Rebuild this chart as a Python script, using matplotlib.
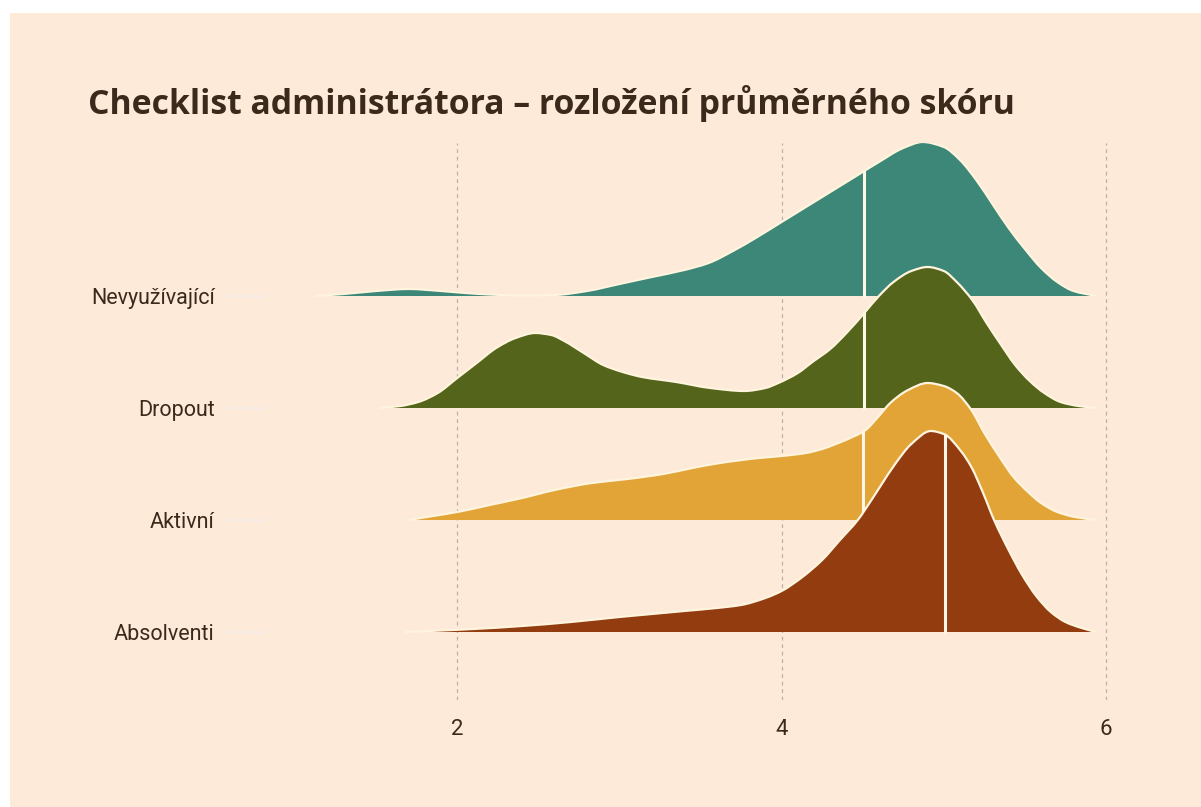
import numpy as np
import matplotlib
matplotlib.use("Agg")
import matplotlib.pyplot as plt
from matplotlib.patches import Rectangle, PathPatch
from matplotlib.path import Path

# ---------------- data ----------------
groups = ["Absolventi", "Aktivní", "Dropout", "Nevyužívající"]
colors = ["#923C10", "#E2A437", "#54641B", "#3C8777"]

x_nev = [1.12, 1.30, 1.50, 1.70, 1.90, 2.05, 2.20, 2.40, 2.60, 2.80, 3.00, 3.20, 3.40, 3.55,
         3.70, 3.85, 4.00, 4.15, 4.30, 4.45, 4.60, 4.75, 4.87, 5.00, 5.10, 5.20, 5.30, 5.40,
         5.50, 5.60, 5.70, 5.80, 5.94]
d_nev = [0, 2, 5, 7, 5, 3, 1.5, 0.5, 1, 5, 12, 19, 26, 33,
         45, 59, 74, 89, 104, 119, 134, 148, 154, 149, 136, 116, 92, 68,
         47, 28, 14, 5, 0]

x_drop = [1.52, 1.65, 1.76, 1.88, 2.00, 2.12, 2.24, 2.36, 2.48, 2.58, 2.66, 2.78, 2.90, 3.02,
          3.14, 3.35, 3.56, 3.77, 3.90, 3.98, 4.10, 4.19, 4.30, 4.40, 4.51, 4.60, 4.69, 4.80,
          4.90, 5.00, 5.08, 5.18, 5.26, 5.35, 5.44, 5.53, 5.62, 5.72, 5.83, 5.94]
d_drop = [0, 2, 6, 15, 30, 45, 60, 70, 75, 73, 67, 55, 43, 36,
          31, 26, 20, 17, 20, 25, 35, 46, 59, 75, 95, 112, 126, 137,
          141, 137, 126, 107, 86, 64, 43, 27, 15, 6, 2, 0]

x_akt = [1.70, 1.85, 2.00, 2.20, 2.40, 2.60, 2.83, 3.05, 3.27, 3.45, 3.62, 3.86, 4.00, 4.15,
         4.25, 4.35, 4.45, 4.51, 4.60, 4.67, 4.78, 4.90, 5.00, 5.08, 5.17, 5.25, 5.34, 5.43,
         5.52, 5.60, 5.70, 5.81, 5.94]
d_akt = [0, 4, 8, 15, 22, 30, 37, 41, 46, 52, 57, 62, 64, 67,
         71, 77, 84, 89, 104, 117, 130, 137, 134, 127, 110, 87, 64, 43,
         28, 17, 8, 3, 0]

x_abs = [1.68, 1.90, 2.10, 2.40, 2.70, 3.00, 3.20, 3.40, 3.60, 3.75, 3.90, 4.00, 4.12, 4.25,
         4.36, 4.47, 4.55, 4.61, 4.70, 4.80, 4.92, 5.00, 5.11, 5.17, 5.24, 5.31, 5.40, 5.48,
         5.57, 5.66, 5.75, 5.85, 5.94]
d_abs = [0, 1.5, 3, 6, 10, 15, 18, 21, 24, 27, 34, 41, 54, 72,
         92, 112, 131, 146, 168, 188, 201, 198, 180, 165, 140, 112, 82, 58,
         36, 20, 10, 4, 0]

medians = [5.01, 4.50, 4.51, 4.51]
x_ticks = [2, 4, 6]
title = "Checklist administrátora – rozložení průměrného skóru"

xs = [x_abs, x_akt, x_drop, x_nev]
ds = [d_abs, d_akt, d_drop, d_nev]

# ---------------- helpers ----------------
def pchip_slopes(x, y):
    h = np.diff(x)
    delta = np.diff(y) / h
    m = np.zeros_like(y)
    for k in range(1, len(x) - 1):
        if delta[k - 1] * delta[k] <= 0:
            m[k] = 0.0
        else:
            w1 = 2 * h[k] + h[k - 1]
            w2 = h[k] + 2 * h[k - 1]
            m[k] = (w1 + w2) / (w1 / delta[k - 1] + w2 / delta[k])
    m[0] = delta[0]
    m[-1] = delta[-1]
    return m


def smooth_path_vertices(x, y):
    """Monotone cubic Bezier segments through the given points."""
    m = pchip_slopes(x, y)
    verts = [(x[0], y[0])]
    codes = [Path.MOVETO]
    for k in range(len(x) - 1):
        dx = x[k + 1] - x[k]
        verts += [(x[k] + dx / 3, y[k] + m[k] * dx / 3),
                  (x[k + 1] - dx / 3, y[k + 1] - m[k + 1] * dx / 3),
                  (x[k + 1], y[k + 1])]
        codes += [Path.CURVE4] * 3
    return verts, codes


def pchip_eval(x, y, xq):
    m = pchip_slopes(x, y)
    k = np.searchsorted(x, xq) - 1
    k = min(max(k, 0), len(x) - 2)
    hk = x[k + 1] - x[k]
    t = (xq - x[k]) / hk
    h00 = 2 * t**3 - 3 * t**2 + 1
    h10 = t**3 - 2 * t**2 + t
    h01 = -2 * t**3 + 3 * t**2
    h11 = t**3 - t**2
    return h00 * y[k] + h10 * hk * m[k] + h01 * y[k + 1] + h11 * hk * m[k + 1]


# ---------------- style ----------------
BG = "#FDEAD9"
TXT = "#3B2A1C"
W, H = 1201, 807
scale = 1 / 112.0   # density units -> row units

fig = plt.figure(figsize=(W / 100, H / 100), dpi=100, facecolor="white")
fig.patches.append(Rectangle((10 / W, 0), 1 - 10 / W, 1 - 13 / H,
                             transform=fig.transFigure, facecolor=BG,
                             edgecolor="none", zorder=-10))

L, R, T, B = 266, 1140, 143, 700
ax = fig.add_axes([L / W, 1 - B / H, (R - L) / W, (B - T) / H])
ax.set_facecolor("none")
px_per_x = 162.0
x0px = 457.0
ax.set_xlim(2 - (x0px - L) / px_per_x, 6 + (R - 1106) / px_per_x)
base_px = 632.0
ax.set_ylim(-(B - base_px) / 112.0, (base_px - T) / 112.0)

for s in ax.spines.values():
    s.set_visible(False)

ax.set_xticks(x_ticks)
ax.set_xticklabels([str(t) for t in x_ticks])
ax.grid(axis="x", color="#BDB1A6", linestyle=(0, (3, 3)), linewidth=0.9)
ax.set_axisbelow(True)
ax.tick_params(axis="x", length=0, pad=14, labelsize=16, labelcolor=TXT)

ax.set_yticks(range(len(groups)))
ax.set_yticklabels(groups)
ax.tick_params(axis="y", length=29, width=2.5, color="#F9EDE3", pad=8,
               labelsize=15.5, labelcolor=TXT)

for lab in ax.get_xticklabels() + ax.get_yticklabels():
    lab.set_fontfamily(["Liberation Sans Narrow", "Roboto", "DejaVu Sans"])

n = len(groups)
for i in range(n - 1, -1, -1):
    x = np.array(xs[i], dtype=float)
    y = np.array(ds[i], dtype=float) * scale
    z = 10 + (n - i) * 3
    verts, codes = smooth_path_vertices(x, i + y)
    fill_verts = verts + [(x[-1], i), (x[0], i), (x[0], i)]
    fill_codes = codes + [Path.LINETO, Path.LINETO, Path.CLOSEPOLY]
    ax.add_patch(PathPatch(Path(fill_verts, fill_codes), facecolor=colors[i],
                           edgecolor="none", zorder=z))
    ax.add_patch(PathPatch(Path(verts, codes), facecolor="none",
                           edgecolor="#FFF4DE", linewidth=1.6, zorder=z + 1))
    m = medians[i]
    hm = pchip_eval(x, y, m)
    ax.plot([m, m], [i, i + hm], color="#FFF6E6", linewidth=2.2, zorder=z + 1)

fig.text(88 / W, 1 - 104 / H, title, fontsize=24.3, fontweight="bold",
         color=TXT, va="center", ha="left",
         family=["Open Sans", "DejaVu Sans"])

fig.savefig("out.png", dpi=100, facecolor="white")
